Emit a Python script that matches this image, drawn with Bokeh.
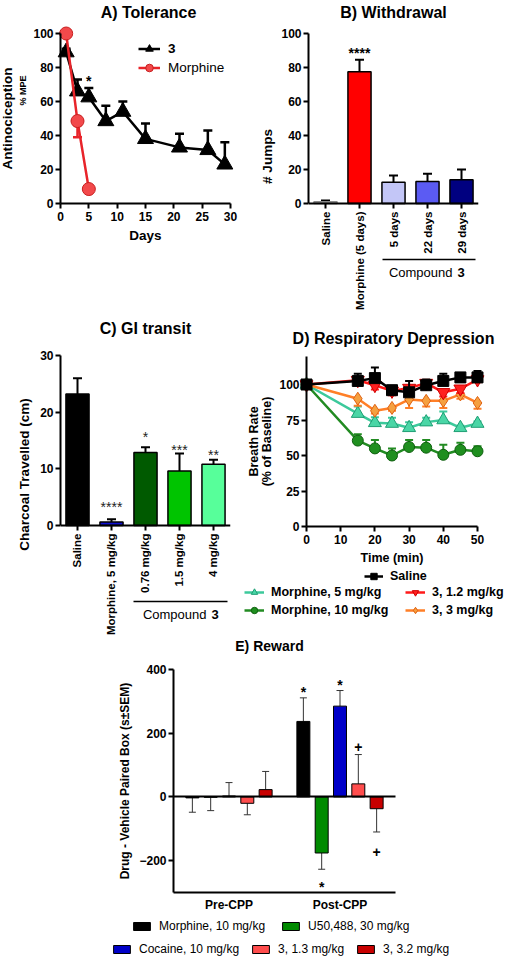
import math
from bokeh.plotting import figure
from bokeh.models import (ColumnDataSource, FactorRange, Range1d, Label, Legend,
                          LegendItem, Arrow, FixedTicker, LinearAxis)
from bokeh.layouts import column, row
from bokeh.transform import dodge
from bokeh.core.properties import value
from bokeh.embed import file_html
from bokeh.resources import INLINE

FONT = "Liberation Sans"

# ---------------- data ----------------
# A) Tolerance
a_days_cmp3 = [1, 3, 5, 8, 11, 15, 21, 26, 29]
a_mpe_cmp3 = [89, 66, 62.5, 48.5, 54, 38, 33, 31.5, 23]
a_sem_cmp3 = [2, 7, 5.5, 9, 6, 9, 8, 11.5, 13]
a_days_morph = [1, 3, 5]
a_mpe_morph = [100, 48.5, 8.5]
a_sem_morph = [0, 9.5, 0]
a_sig_day = [5]
a_sig_y = [72]
a_sig = ["*"]

# B) Withdrawal
b_groups = ["Saline", "Morphine (5 days)", "5 days", "22 days", "29 days"]
b_jumps = [1.0, 77.5, 12.5, 13.0, 14.0]
b_sem = [0.8, 7.0, 4.0, 4.5, 6.0]
b_colors = ["#a6a6a6", "#ff0000", "#c3c6f7", "#5b5bf3", "#000080"]
b_sig = ["", "****", "", "", ""]
b_sig_y = [0, 88.3, 0, 0, 0]

# C) GI transit
c_groups = ["Saline", "Morphine, 5 mg/kg", "0.76 mg/kg", "1.5 mg/kg", "4 mg/kg"]
c_cm = [23.2, 0.6, 12.9, 9.6, 10.8]
c_sem = [2.8, 0.5, 0.9, 3.1, 0.8]
c_colors = ["#000000", "#1010d0", "#005a00", "#00c400", "#57ff9a"]
c_sig = ["", "****", "*", "***", "**"]
c_sig_y = [0, 3.3, 15.7, 13.4, 12.4]

# D) Respiratory depression
d_time = [0, 15, 20, 25, 30, 35, 40, 45, 50]
d_saline = [100, 102.5, 104.5, 96, 94.5, 99.5, 102.5, 105, 105]
d_saline_sem = [0, 5, 7.5, 3, 8, 4, 5, 1, 4.5]
d_c12 = [100, 103, 99.5, 95.5, 97.5, 101, 94.5, 97, 103.5]
d_c12_sem = [0, 3, 3, 3, 4, 3, 3, 3, 2]
d_c3 = [100, 90, 81.5, 83.5, 89.5, 88.5, 88.5, 93, 87]
d_c3_sem = [0, 5, 2, 2, 6, 4, 5, 3, 4]
d_m5 = [100, 79.5, 73, 72.5, 69.5, 73.5, 75, 69.5, 72.5]
d_m5_sem = [0, 5, 4, 4, 4, 3, 6, 1.5, 1.5]
d_m10 = [100, 60.5, 55, 50, 56, 55.5, 50.5, 54, 53]
d_m10_sem = [0, 4.5, 6, 5, 5, 5.5, 7, 5, 3.5]

# E) Reward
e_groups = ["Pre-CPP", "Post-CPP"]
e_morphine = [-3, 237]
e_morphine_sem = [45, 74]
e_u50 = [-1, -176]
e_u50_sem = [42, 51]
e_cocaine = [3, 285]
e_cocaine_sem = [42, 49]
e_c13 = [-20, 41]
e_c13_sem = [36, 92]
e_c32 = [23, -37]
e_c32_sem = [57, 73]
e_morphine_sig = ["", "*"]
e_morphine_sig_y = [0, 328]
e_u50_sig = ["", "*"]
e_u50_sig_y = [0, -284]
e_cocaine_sig = ["", "*"]
e_cocaine_sig_y = [0, 350]
e_c13_sig = ["", "+"]
e_c13_sig_y = [0, 156]
e_c32_sig = ["", "+"]
e_c32_sig_y = [0, -173]


# ---------------- helpers ----------------
def base_fig(w, h, xr, yr, left=0, right=0):
    p = figure(width=w, height=h, x_range=xr, y_range=yr, output_backend="svg",
               toolbar_location=None, title=None,
               min_border_left=left, min_border_right=right,
               min_border_top=0, min_border_bottom=0)
    p.grid.visible = False
    p.outline_line_color = None
    for ax in p.axis:
        style_axis(ax)
    return p


def style_axis(ax):
    ax.axis_line_width = 2
    ax.axis_line_color = "black"
    ax.major_tick_line_width = 2
    ax.major_tick_line_color = "black"
    ax.major_tick_out = 5
    ax.major_tick_in = 0
    ax.minor_tick_line_color = None
    ax.major_label_standoff = 2
    ax.major_label_text_font = FONT
    ax.major_label_text_font_style = "bold"
    ax.major_label_text_font_size = "12px"
    ax.major_label_text_color = "black"
    ax.axis_label_text_font = FONT
    ax.axis_label_text_font_style = "bold"
    ax.axis_label_text_font_size = "13.5px"
    ax.axis_label_text_color = "black"


def add_label(p, x, y, text, size, bold=True, angle=0.0, align="center"):
    p.add_layout(Label(x=x, y=y, x_units="screen", y_units="screen", text=text,
                       text_font=FONT, text_font_size=size,
                       text_font_style="bold" if bold else "normal",
                       text_align=align, text_baseline="middle", angle=angle,
                       text_color="black"))


def error_bars(p, x, y, end, color, width, cap):
    p.segment(x0=x, y0=y, x1=x, y1=end, line_color=color, line_width=width)
    p.scatter(x=x, y=end, marker="dash", size=cap, line_color=color, line_width=width)


def make_legend(items, loc, size, bold, glyph_w, glyph_h, label_h, standoff,
                spacing=0, orientation="vertical", label_width=20):
    return Legend(items=items, location=loc, orientation=orientation,
                  label_text_font=FONT, label_text_font_size=size,
                  label_text_font_style="bold" if bold else "normal",
                  label_text_color="black",
                  glyph_width=glyph_w, glyph_height=glyph_h, label_height=label_h,
                  label_standoff=standoff, spacing=spacing, padding=0, margin=0,
                  border_line_color=None, background_fill_alpha=0,
                  label_width=label_width)


def underline(p, x0, x1, y):
    p.add_layout(Arrow(x_start=x0, y_start=y, x_end=x1, y_end=y, start_units="screen",
                       end_units="screen", start=None, end=None, line_width=1.5,
                       line_color="black"))


# ---------------- A) Tolerance ----------------
pA = base_fig(250, 312, Range1d(-60 / 5.667, 30 + 20 / 5.667),
              Range1d(-109 / 1.7, 100 + 33 / 1.7))
pA.xaxis.fixed_location = 0
pA.yaxis.fixed_location = 0
pA.xaxis.bounds = (0, 30)
pA.yaxis.bounds = (0, 100)
pA.xaxis.ticker = FixedTicker(ticks=[0, 5, 10, 15, 20, 25, 30])
pA.yaxis.ticker = FixedTicker(ticks=[0, 20, 40, 60, 80, 100])
pA.xaxis.major_label_standoff = 3
pA.xaxis.axis_label = "Days"
pA.xaxis.axis_label_standoff = 4
pA.yaxis.axis_label = "Antinociception"
pA.yaxis.axis_label_standoff = 15

a_end3 = [m + s for m, s in zip(a_mpe_cmp3, a_sem_cmp3)]
error_bars(pA, a_days_cmp3, a_mpe_cmp3, a_end3, "black", 2.5, 9)
am = [(d, m, m - s) for d, m, s in zip(a_days_morph, a_mpe_morph, a_sem_morph) if s > 0]
error_bars(pA, [t[0] for t in am], [t[1] for t in am], [t[2] for t in am], "#e8242a", 2.5, 9)
lA3 = pA.line(a_days_cmp3, a_mpe_cmp3, line_color="black", line_width=2.5)
mA3 = pA.scatter(a_days_cmp3, a_mpe_cmp3, marker="triangle", size=16,
                 fill_color="black", line_color="black")
lAm = pA.line(a_days_morph, a_mpe_morph, line_color="#e8242a", line_width=2.5)
mAm = pA.scatter(a_days_morph, a_mpe_morph, marker="circle", size=13,
                 fill_color="#f2494b", line_color="#c81e1e", line_width=1)
pA.text(x=a_sig_day, y=a_sig_y, text=a_sig, text_font=value(FONT), text_font_size="14px",
        text_font_style="bold", text_align="center", text_baseline="alphabetic",
        text_color="black")
pA.add_layout(make_legend([LegendItem(label="3", renderers=[lA3, mA3])],
                          (138, 254), "13.5px", True, 22, 19, 19, 8))
pA.add_layout(make_legend([LegendItem(label="Morphine", renderers=[lAm, mAm])],
                          (138, 235), "13.5px", False, 22, 19, 19, 8))
add_label(pA, 148, 300, "A) Tolerance", "16px")
add_label(pA, 22, 222, "% MPE", "9px", angle=math.pi / 2)

# ---------------- B) Withdrawal ----------------
pB = base_fig(256, 312, FactorRange(factors=b_groups), Range1d(-109 / 1.7, 100 + 33 / 1.7),
              left=58, right=28)
pB.xaxis.fixed_location = 0
pB.yaxis.bounds = (0, 100)
pB.yaxis.ticker = FixedTicker(ticks=[0, 20, 40, 60, 80, 100])
pB.yaxis.axis_label = "# Jumps"
pB.yaxis.axis_label_standoff = 3
pB.xaxis.major_label_orientation = math.pi / 2
pB.xaxis.major_label_text_font_size = "11.5px"
pB.xaxis.major_label_standoff = 3
b_end = [v + s for v, s in zip(b_jumps, b_sem)]
error_bars(pB, b_groups, b_jumps, b_end, "black", 2, 9)
pB.vbar(x=b_groups, top=b_jumps, width=0.68, fill_color=b_colors,
        line_color=["#8a8a8a", "black", "black", "black", "black"], line_width=1.5)
pB.text(x=b_groups, y=b_sig_y, text=b_sig, text_font=value(FONT), text_font_size="14px",
        text_font_style="bold", text_align="center", text_baseline="alphabetic",
        text_color="black")
add_label(pB, 85, 300, "B) Withdrawal", "16px")
underline(pB, 74, 167, 53)
add_label(pB, 144, 40, "Compound", "13px", bold=False, align="right")
add_label(pB, 149, 40, "3", "13px", bold=True, align="left")

# ---------------- C) GI transit ----------------
pC = base_fig(244, 324, FactorRange(factors=c_groups),
              Range1d(-111 / 5.667, 30 + 43 / 5.667), left=60, right=14)
pC.xaxis.fixed_location = 0
pC.yaxis.bounds = (0, 30)
pC.yaxis.ticker = FixedTicker(ticks=[0, 10, 20, 30])
pC.yaxis.axis_label = "Charcoal Travelled (cm)"
pC.yaxis.axis_label_standoff = 5
pC.xaxis.major_label_orientation = math.pi / 2
pC.xaxis.major_label_text_font_size = "11.5px"
pC.xaxis.major_label_standoff = 3
c_end = [v + s for v, s in zip(c_cm, c_sem)]
error_bars(pC, c_groups, c_cm, c_end, "black", 2, 9)
pC.vbar(x=c_groups, top=c_cm, width=0.68, fill_color=c_colors, line_color="black",
        line_width=1.5)
pC.text(x=c_groups, y=c_sig_y, text=c_sig, text_font=value(FONT), text_font_size="14px",
        text_align="center", text_baseline="alphabetic", text_color="#222222")
add_label(pC, 85, 308, "C) GI transit", "16px")
underline(pC, 73, 167, 35)
add_label(pC, 146, 22, "Compound", "13px", bold=False, align="right")
add_label(pC, 151, 22, "3", "13px", bold=True, align="left")

# ---------------- D) Respiratory depression ----------------
pD = base_fig(262, 324, Range1d(-62 / 3.42, 50 + 29 / 3.42),
              Range1d(-110 / 1.42, 100 + 72 / 1.42))
pD.xaxis.fixed_location = 0
pD.yaxis.fixed_location = 0
pD.xaxis.bounds = (0, 50)
pD.yaxis.bounds = (0, 120)
pD.xaxis.ticker = FixedTicker(ticks=[0, 10, 20, 30, 40, 50])
pD.yaxis.ticker = FixedTicker(ticks=[0, 25, 50, 75, 100])
pD.xaxis.major_label_standoff = 3
pD.xaxis.axis_label = "Time (min)"
pD.xaxis.axis_label_text_font_size = "12.5px"
pD.xaxis.axis_label_standoff = 4

series_d = [
    ("Morphine, 10 mg/kg", d_m10, d_m10_sem, 1, "#228b22", "circle", 11, "#1f8f1f", "#0f5f0f"),
    ("Morphine, 5 mg/kg", d_m5, d_m5_sem, 1, "#3cc99b", "triangle", 13, "#4ad6a6", "#1e9e74"),
    ("3, 3 mg/kg", d_c3, d_c3_sem, -1, "#ff7f27", "diamond", 13, "#f5a040", "#e06010"),
    ("3, 1.2 mg/kg", d_c12, d_c12_sem, -1, "#ff1a1a", "inverted_triangle", 13, "#ff2020", "#d00000"),
    ("Saline", d_saline, d_saline_sem, 1, "#000000", "square", 11, "#000000", "#000000"),
]
d_r = {}
for name, vals, sems, sgn, lc, mk, sz, fc, oc in series_d:
    ends = [v + sgn * s for v, s in zip(vals, sems)]
    et = [(t, v, e) for t, v, e, s in zip(d_time, vals, ends, sems) if s > 0]
    error_bars(pD, [q[0] for q in et], [q[1] for q in et], [q[2] for q in et], lc, 2, 8)
    lr = pD.line(d_time, vals, line_color=lc, line_width=2.5)
    mr = pD.scatter(d_time, vals, marker=mk, size=sz, fill_color=fc, line_color=oc,
                    line_width=1)
    d_r[name] = [lr, mr]

add_label(pD, 149, 298, "D) Respiratory Depression", "16px")
add_label(pD, 9, 195, "Breath Rate", "12.5px", angle=math.pi / 2)
add_label(pD, 22, 195, "(% of Baseline)", "12.5px", angle=math.pi / 2)
pD.add_layout(make_legend([LegendItem(label="Saline", renderers=d_r["Saline"])],
                          (120, 52), "12.5px", True, 19, 16, 16, 7))
pD.add_layout(make_legend([LegendItem(label="Morphine, 5 mg/kg", renderers=d_r["Morphine, 5 mg/kg"]),
                           LegendItem(label="3, 1.2 mg/kg", renderers=d_r["3, 1.2 mg/kg"])],
                          (0, 35), "12.5px", True, 20, 16, 18, 7, orientation="horizontal",
                          label_width=134))
pD.add_layout(make_legend([LegendItem(label="Morphine, 10 mg/kg", renderers=d_r["Morphine, 10 mg/kg"]),
                           LegendItem(label="3, 3 mg/kg", renderers=d_r["3, 3 mg/kg"])],
                          (0, 17), "12.5px", True, 20, 16, 18, 7, orientation="horizontal",
                          label_width=134))

# ---------------- E) Reward ----------------
e_pos = [i + 0.5 for i in range(len(e_groups))]
pE = base_fig(506, 320, Range1d(-173 / 111, 2 + 111 / 111),
              Range1d(-300 - 64 / 0.31857, 400 + 33 / 0.31857))
pE.xaxis.fixed_location = -300
pE.yaxis.fixed_location = 0
pE.xaxis.bounds = (0, len(e_groups))
pE.yaxis.bounds = (-300, 400)
pE.xaxis.ticker = FixedTicker(ticks=e_pos)
pE.xaxis.major_label_overrides = dict(zip(e_pos, e_groups))
pE.xaxis.major_tick_out = 0
pE.xaxis.major_label_standoff = 6
pE.yaxis.ticker = FixedTicker(ticks=[-200, 0, 200, 400])
pE.yaxis.axis_label = "Drug - Vehicle Paired Box (s\u00b1SEM)"
pE.yaxis.axis_label_text_font_size = "12px"
pE.yaxis.axis_label_standoff = 4
zero_axis = LinearAxis(fixed_location=0, bounds=(0, len(e_groups)),
                       ticker=FixedTicker(ticks=[]))
style_axis(zero_axis)
zero_axis.major_tick_line_color = None
zero_axis.major_label_text_color = None
pE.add_layout(zero_axis, "below")

series_e = [
    ("Morphine, 10 mg/kg", e_morphine, e_morphine_sem, e_morphine_sig, e_morphine_sig_y, -0.33, "#000000"),
    ("U50,488, 30 mg/kg", e_u50, e_u50_sem, e_u50_sig, e_u50_sig_y, -0.165, "#008a00"),
    ("Cocaine, 10 mg/kg", e_cocaine, e_cocaine_sem, e_cocaine_sig, e_cocaine_sig_y, 0.0, "#0000c8"),
    ("3, 1.3 mg/kg", e_c13, e_c13_sem, e_c13_sig, e_c13_sig_y, 0.165, "#ff4d4d"),
    ("3, 3.2 mg/kg", e_c32, e_c32_sem, e_c32_sig, e_c32_sig_y, 0.33, "#c80000"),
]
e_r = {}
for name, vals, sems, sig, sig_y, off, col in series_e:
    ends = [v + (s if v >= 0 else -s) for v, s in zip(vals, sems)]
    src = ColumnDataSource(dict(x=e_pos, val=vals, end=ends, sig=sig, sig_y=sig_y))
    xd = dodge("x", off)
    pE.segment(x0=xd, y0="val", x1=xd, y1="end", source=src, line_color="#333333", line_width=1)
    pE.scatter(x=xd, y="end", marker="dash", size=7, source=src, line_color="#333333",
               line_width=1)
    e_r[name] = pE.vbar(x=xd, top="val", bottom=0, width=0.117, source=src, fill_color=col,
                        line_color="black", line_width=1)
    pE.text(x=xd, y="sig_y", text="sig", source=src, text_font=value(FONT),
            text_font_size="14px", text_font_style="bold", text_align="center",
            text_baseline="alphabetic", text_color="black")

add_label(pE, 269, 311, "E) Reward", "14px")
pE.add_layout(make_legend([LegendItem(label="Morphine, 10 mg/kg", renderers=[e_r["Morphine, 10 mg/kg"]]),
                           LegendItem(label="U50,488, 30 mg/kg", renderers=[e_r["U50,488, 30 mg/kg"]])],
                          (131, 23), "12px", False, 21, 10, 14, 7, spacing=15,
                          orientation="horizontal"))
pE.add_layout(make_legend([LegendItem(label="Cocaine, 10 mg/kg", renderers=[e_r["Cocaine, 10 mg/kg"]]),
                           LegendItem(label="3, 1.3 mg/kg", renderers=[e_r["3, 1.3 mg/kg"]]),
                           LegendItem(label="3, 3.2 mg/kg", renderers=[e_r["3, 3.2 mg/kg"]])],
                          (111, 0), "12px", False, 21, 10, 14, 7, spacing=11,
                          orientation="horizontal"))

layout = column(row(pA, pB), row(pC, pD), pE)
open("out.html", "w").write(file_html(layout, INLINE))
